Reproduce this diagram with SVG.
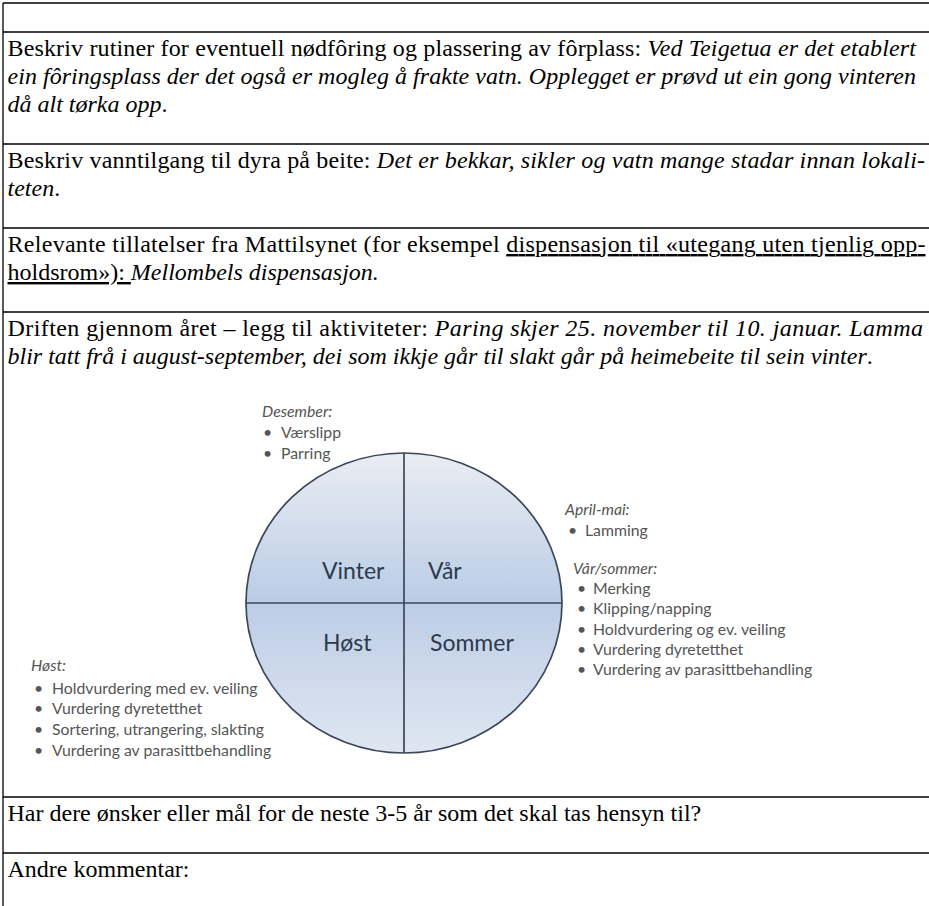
<svg xmlns="http://www.w3.org/2000/svg" width="929" height="906" viewBox="0 0 929 906">
<style>
.t{font-family:"Liberation Serif","Times New Roman",serif;font-size:24px;fill:#000}
.i{font-style:italic}
.u{text-decoration:underline}
.rule{stroke:#000;stroke-width:1.3}
.a{font-family:Lato,"Open Sans",sans-serif;font-size:15.8px;fill:#555}
.s{font-family:Lato,"Open Sans",sans-serif;font-size:23px;fill:#2c3a4d}
.edge{stroke:#3a4759;stroke-width:1.7;fill:none}
</style>
<defs>
<linearGradient id="gTop" gradientUnits="userSpaceOnUse" x1="0" y1="453" x2="0" y2="603">
<stop offset="0" stop-color="#eaedf2"/><stop offset="1" stop-color="#bacce6"/>
</linearGradient>
<linearGradient id="gBot" gradientUnits="userSpaceOnUse" x1="0" y1="603" x2="0" y2="753">
<stop offset="0" stop-color="#bdcde6"/><stop offset="1" stop-color="#dfe6f1"/>
</linearGradient>
</defs>
<rect width="929" height="906" fill="#fff"/>
<g id="table">
<line class="rule" x1="3" y1="3" x2="929" y2="3"/>
<line class="rule" x1="3" y1="32" x2="929" y2="32"/>
<line class="rule" x1="3" y1="144" x2="929" y2="144"/>
<line class="rule" x1="3" y1="228" x2="929" y2="228"/>
<line class="rule" x1="3" y1="312" x2="929" y2="312"/>
<line class="rule" x1="3" y1="797" x2="929" y2="797"/>
<line class="rule" x1="3" y1="853" x2="929" y2="853"/>
<line class="rule" x1="3" y1="3" x2="3" y2="906"/>
</g>
<g id="row-nodforing">
<text class="t" x="7.5" y="56" textLength="908.5" lengthAdjust="spacing">Beskriv rutiner for eventuell nødfôring og plassering av fôrplass: <tspan class="i">Ved Teigetua er det etablert</tspan></text>
<text class="t i" x="7.5" y="84" textLength="908.5" lengthAdjust="spacing">ein fôringsplass der det også er mogleg å frakte vatn. Opplegget er prøvd ut ein gong vinteren</text>
<text class="t" x="7.5" y="112"><tspan class="i">då alt tørka opp</tspan>.</text>
</g>
<g id="row-vann">
<text class="t" x="7.5" y="168" textLength="917.5" lengthAdjust="spacing">Beskriv vanntilgang til dyra på beite: <tspan class="i">Det er bekkar, sikler og vatn mange stadar innan lokali-</tspan></text>
<text class="t" x="7.5" y="196"><tspan class="i">teten</tspan>.</text>
</g>
<g id="row-tillatelser">
<text class="t" x="7.5" y="252" textLength="918" lengthAdjust="spacing">Relevante tillatelser fra Mattilsynet (for eksempel <tspan class="u">dispensasjon til «utegang uten tjenlig opp-</tspan></text>
<text class="t" x="7.5" y="280"><tspan class="u">holdsrom»): </tspan><tspan class="i">Mellombels dispensasjon.</tspan></text>
</g>
<g id="row-driften">
<text class="t" x="7.5" y="336" textLength="915.5" lengthAdjust="spacing">Driften gjennom året – legg til aktiviteter: <tspan class="i">Paring skjer 25. november til 10. januar. Lamma</tspan></text>
<text class="t" x="7.5" y="364"><tspan class="i">blir tatt frå i august-september, dei som ikkje går til slakt går på heimebeite til sein vinter</tspan>.</text>
</g>
<g id="arshjul">
<path d="M246,603 A158,150 0 0 1 562,603 Z" fill="url(#gTop)"/>
<path d="M246,603 A158,150 0 0 0 562,603 Z" fill="url(#gBot)"/>
<ellipse class="edge" cx="404" cy="603" rx="158" ry="150"/>
<line class="edge" x1="404" y1="453" x2="404" y2="753"/>
<line class="edge" x1="246" y1="603" x2="562" y2="603"/>
<g id="q-vinter"><text class="s" x="322" y="579">Vinter</text></g>
<g id="q-var"><text class="s" x="428" y="579">Vår</text></g>
<g id="q-host"><text class="s" x="323" y="651">Høst</text></g>
<g id="q-sommer"><text class="s" x="430" y="651">Sommer</text></g>
</g>
<g id="note-desember">
<text class="a" x="262" y="417" font-style="italic">Desember:</text>
<text class="a" x="263" y="438">•</text><text class="a" x="281" y="438">Værslipp</text>
<text class="a" x="263" y="459">•</text><text class="a" x="281" y="459">Parring</text>
</g>
<g id="note-var">
<text class="a" x="565" y="515" font-style="italic">April-mai:</text>
<text class="a" x="568" y="536">•</text><text class="a" x="585" y="536">Lamming</text>
<text class="a" x="573" y="574" font-style="italic">Vår/sommer:</text>
<text class="a" x="577" y="594">•</text><text class="a" x="593" y="594">Merking</text>
<text class="a" x="577" y="614">•</text><text class="a" x="593" y="614">Klipping/napping</text>
<text class="a" x="577" y="635">•</text><text class="a" x="593" y="635">Holdvurdering og ev. veiling</text>
<text class="a" x="577" y="655">•</text><text class="a" x="593" y="655">Vurdering dyretetthet</text>
<text class="a" x="577" y="675">•</text><text class="a" x="593" y="675">Vurdering av parasittbehandling</text>
</g>
<g id="note-host">
<text class="a" x="31" y="671" font-style="italic">Høst:</text>
<text class="a" x="34" y="694">•</text><text class="a" x="52" y="694">Holdvurdering med ev. veiling</text>
<text class="a" x="34" y="714">•</text><text class="a" x="52" y="714">Vurdering dyretetthet</text>
<text class="a" x="34" y="735">•</text><text class="a" x="52" y="735">Sortering, utrangering, slakting</text>
<text class="a" x="34" y="756">•</text><text class="a" x="52" y="756">Vurdering av parasittbehandling</text>
</g>
<g id="row-onsker">
<text class="t" x="7.5" y="821">Har dere ønsker eller mål for de neste 3-5 år som det skal tas hensyn til?</text>
</g>
<g id="row-andre">
<text class="t" x="7.5" y="877">Andre kommentar:</text>
</g>
</svg>
